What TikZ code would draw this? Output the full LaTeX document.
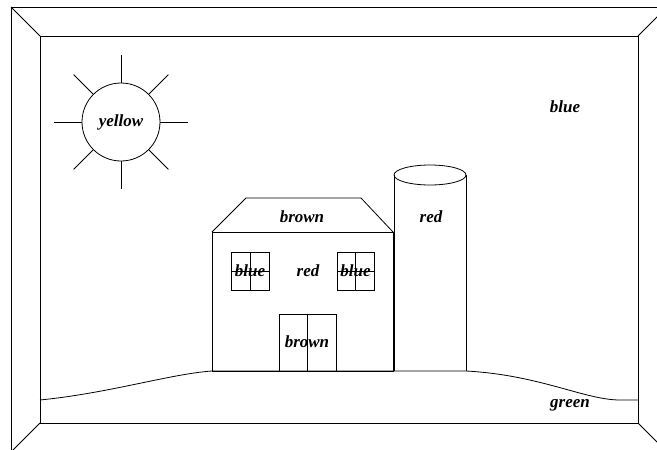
\documentclass[tikz,border=0pt]{standalone}
\usepackage{fontspec}
\setmainfont{Liberation Serif}
\usepackage{tikz}
\usetikzlibrary{positioning}
\tikzset{lbl/.style = {font = \fontsize{17}{20}\selectfont\bfseries\itshape, inner sep = 0}}

\begin{document}
\begin{tikzpicture}[x = 1pt, y = -1pt, line width = 0.8pt]
      \useasboundingbox (0, 0) rectangle (657, 450);
      \clip (0, 0) rectangle (657, 450);

      % frame
      \draw (11, 7) rectangle (667, 452);
      \draw (40, 36) rectangle (638, 423);
      \draw (11, 7) -- (40, 36);
      \draw (667, 7) -- (638, 36);
      \draw (11, 452) -- (40, 423);
      \draw (667, 452) -- (638, 423);
      \node [lbl] (sky) at (565, 107) {blue};

      % sun
      \draw (121, 122) circle [radius = 39pt];
      \foreach \a in {0, 45, ..., 315}
        \draw (121, 122) ++(\a:39pt) -- ++(\a:28pt);
      \node [lbl] (sun) at (121, 122) {yellow};

      % ground
      \draw (40, 400) .. controls (110, 393) and (170, 374) .. (212, 371)
        -- (466, 371) .. controls (540, 375) and (585, 400) .. (620, 400) -- (638, 400);
      \node [lbl] (grass) at (570, 405) {green};

      % house
      \draw (212, 232) rectangle (393, 371);
      \draw (212, 232) -- (246, 198) -- (361, 198) -- (393, 232);
      \node [lbl] (roof) at (302, 217) {brown};
      \node [lbl] (wall) at (308, 271) {red};

      \draw (231, 252) rectangle (269, 290);
      \draw (250, 252) -- (250, 290);
      \draw (231, 271) -- (269, 271);
      \node [lbl] (winl) at (250, 271) {blue};

      \draw (337, 252) rectangle (374, 290);
      \draw (355.5, 252) -- (355.5, 290);
      \draw (337, 271) -- (374, 271);
      \node [lbl] (winr) at (355.5, 271) {blue};

      \draw (279, 314) rectangle (336, 371);
      \draw (307, 314) -- (307, 371);
      \node [lbl] (door) at (307, 342) {brown};

      % silo
      \draw (394, 175) -- (394, 371);
      \draw (466, 175) -- (466, 371);
      \draw (430, 175) ellipse [x radius = 36pt, y radius = 10pt];
      \node [lbl] (silo) at (431, 217) {red};
    \end{tikzpicture}
\end{document}
